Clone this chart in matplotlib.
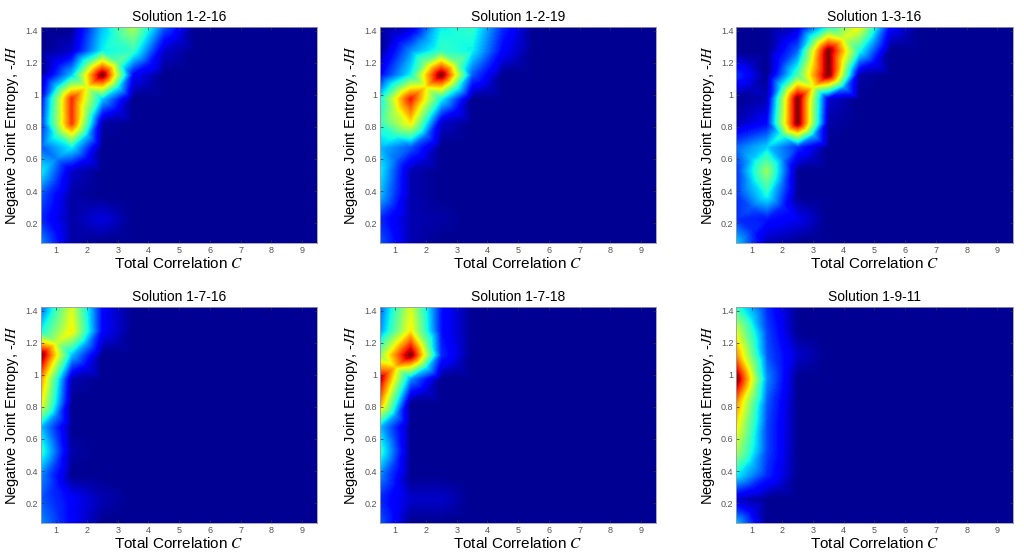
import numpy as np
import matplotlib
matplotlib.use("Agg")
import matplotlib.pyplot as plt
import matplotlib.tri as mtri
from matplotlib.colors import Normalize

plt.rcParams['font.family'] = ['Liberation Sans', 'DejaVu Sans']
plt.rcParams['mathtext.fontset'] = 'stix'

# grid nodes: total correlation C (columns), negative joint entropy -JH (rows, bottom to top)
c_nodes = [0.5, 1.5, 2.5, 3.5, 4.5, 5.5, 6.5, 7.5, 8.5, 9.5]
h_nodes = [0.075, 0.225, 0.375, 0.525, 0.675, 0.825, 0.975, 1.125, 1.275, 1.425]

titles = ["Solution 1-2-16", "Solution 1-2-19", "Solution 1-3-16",
          "Solution 1-7-16", "Solution 1-7-18", "Solution 1-9-11"]

# relative densities, rows = h_nodes, cols = c_nodes
d_1_2_16 = [
    [0.25, 0.02, 0.00, 0.00, 0.00, 0, 0, 0, 0, 0],
    [0.15, 0.02, 0.07, 0.00, 0.00, 0, 0, 0, 0, 0],
    [0.20, 0.02, 0.00, 0.00, 0.00, 0, 0, 0, 0, 0],
    [0.35, 0.05, 0.00, 0.00, 0.00, 0, 0, 0, 0, 0],
    [0.20, 0.35, 0.00, 0.00, 0.00, 0, 0, 0, 0, 0],
    [0.15, 0.85, 0.02, 0.00, 0.00, 0, 0, 0, 0, 0],
    [0.10, 0.86, 0.30, 0.00, 0.00, 0, 0, 0, 0, 0],
    [0.00, 0.30, 1.00, 0.10, 0.00, 0, 0, 0, 0, 0],
    [0.00, 0.05, 0.35, 0.40, 0.05, 0, 0, 0, 0, 0],
    [0.00, 0.00, 0.30, 0.55, 0.20, 0, 0, 0, 0, 0],
]
d_1_2_19 = [
    [0.20, 0.03, 0.00, 0.00, 0.00, 0, 0, 0, 0, 0],
    [0.15, 0.03, 0.02, 0.00, 0.00, 0, 0, 0, 0, 0],
    [0.30, 0.03, 0.00, 0.00, 0.00, 0, 0, 0, 0, 0],
    [0.35, 0.03, 0.00, 0.00, 0.00, 0, 0, 0, 0, 0],
    [0.30, 0.20, 0.00, 0.00, 0.00, 0, 0, 0, 0, 0],
    [0.40, 0.65, 0.05, 0.00, 0.00, 0, 0, 0, 0, 0],
    [0.35, 0.88, 0.35, 0.00, 0.00, 0, 0, 0, 0, 0],
    [0.10, 0.35, 1.00, 0.20, 0.00, 0, 0, 0, 0, 0],
    [0.00, 0.25, 0.40, 0.35, 0.10, 0, 0, 0, 0, 0],
    [0.00, 0.05, 0.35, 0.40, 0.15, 0, 0, 0, 0, 0],
]
d_1_3_16 = [
    [0.30, 0.03, 0.00, 0.00, 0.00, 0.00, 0, 0, 0, 0],
    [0.15, 0.12, 0.08, 0.00, 0.00, 0.00, 0, 0, 0, 0],
    [0.15, 0.35, 0.00, 0.00, 0.00, 0.00, 0, 0, 0, 0],
    [0.15, 0.50, 0.00, 0.00, 0.00, 0.00, 0, 0, 0, 0],
    [0.20, 0.30, 0.15, 0.00, 0.00, 0.00, 0, 0, 0, 0],
    [0.03, 0.10, 0.95, 0.02, 0.00, 0.00, 0, 0, 0, 0],
    [0.00, 0.03, 0.95, 0.05, 0.00, 0.00, 0, 0, 0, 0],
    [0.15, 0.00, 0.40, 0.95, 0.02, 0.00, 0, 0, 0, 0],
    [0.00, 0.00, 0.20, 0.95, 0.35, 0.00, 0, 0, 0, 0],
    [0.00, 0.00, 0.05, 0.35, 0.60, 0.10, 0, 0, 0, 0],
]
d_1_7_16 = [
    [0.25, 0.10, 0.00, 0, 0, 0, 0, 0, 0, 0],
    [0.20, 0.10, 0.03, 0, 0, 0, 0, 0, 0, 0],
    [0.25, 0.00, 0.00, 0, 0, 0, 0, 0, 0, 0],
    [0.40, 0.02, 0.00, 0, 0, 0, 0, 0, 0, 0],
    [0.30, 0.00, 0.00, 0, 0, 0, 0, 0, 0, 0],
    [0.65, 0.00, 0.00, 0, 0, 0, 0, 0, 0, 0],
    [0.75, 0.03, 0.00, 0, 0, 0, 0, 0, 0, 0],
    [1.00, 0.30, 0.00, 0, 0, 0, 0, 0, 0, 0],
    [0.35, 0.65, 0.10, 0, 0, 0, 0, 0, 0, 0],
    [0.20, 0.60, 0.10, 0, 0, 0, 0, 0, 0, 0],
]
d_1_7_18 = [
    [0.20, 0.00, 0.00, 0, 0, 0, 0, 0, 0, 0],
    [0.15, 0.05, 0.05, 0, 0, 0, 0, 0, 0, 0],
    [0.25, 0.00, 0.00, 0, 0, 0, 0, 0, 0, 0],
    [0.40, 0.00, 0.00, 0, 0, 0, 0, 0, 0, 0],
    [0.30, 0.00, 0.00, 0, 0, 0, 0, 0, 0, 0],
    [0.75, 0.00, 0.00, 0, 0, 0, 0, 0, 0, 0],
    [0.95, 0.25, 0.00, 0, 0, 0, 0, 0, 0, 0],
    [0.50, 1.00, 0.15, 0, 0, 0, 0, 0, 0, 0],
    [0.25, 0.65, 0.12, 0, 0, 0, 0, 0, 0, 0],
    [0.20, 0.60, 0.12, 0, 0, 0, 0, 0, 0, 0],
]
d_1_9_11 = [
    [0.30, 0.00, 0.00, 0, 0, 0, 0, 0, 0, 0],
    [0.05, 0.00, 0.00, 0, 0, 0, 0, 0, 0, 0],
    [0.35, 0.15, 0.00, 0, 0, 0, 0, 0, 0, 0],
    [0.55, 0.18, 0.00, 0, 0, 0, 0, 0, 0, 0],
    [0.65, 0.18, 0.00, 0, 0, 0, 0, 0, 0, 0],
    [0.75, 0.20, 0.00, 0, 0, 0, 0, 0, 0, 0],
    [1.00, 0.25, 0.00, 0, 0, 0, 0, 0, 0, 0],
    [0.75, 0.20, 0.05, 0, 0, 0, 0, 0, 0, 0],
    [0.60, 0.18, 0.00, 0, 0, 0, 0, 0, 0, 0],
    [0.40, 0.15, 0.00, 0, 0, 0, 0, 0, 0, 0],
]
panels = [d_1_2_16, d_1_2_19, d_1_3_16, d_1_7_16, d_1_7_18, d_1_9_11]

xticks = [1, 2, 3, 4, 5, 6, 7, 8, 9]
yticks = [0.2, 0.4, 0.6, 0.8, 1.0, 1.2, 1.4]
yticklabels = ["0.2", "0.4", "0.6", "0.8", "1", "1.2", "1.4"]

# interp shading: each grid cell gets a centre point (mean of its 4 corners) and is
# cut into 4 triangles; values vary linearly inside each triangle
nx, ny = len(c_nodes), len(h_nodes)
X, Y = np.meshgrid(c_nodes, h_nodes)
cx = (X[:-1, :-1] + X[1:, 1:]) / 2
cy = (Y[:-1, :-1] + Y[1:, 1:]) / 2
px = np.concatenate([X.ravel(), cx.ravel()])
py = np.concatenate([Y.ravel(), cy.ravel()])
tris = []
for j in range(ny - 1):
    for i in range(nx - 1):
        ll = j * nx + i
        lr = ll + 1
        ul = ll + nx
        ur = ul + 1
        c = nx * ny + j * (nx - 1) + i
        tris += [[ll, lr, c], [lr, ur, c], [ur, ul, c], [ul, ll, c]]
tri = mtri.Triangulation(px, py, tris)

fig = plt.figure(figsize=(10.24, 5.6), dpi=100)
lefts = [0.040, 0.371, 0.719]
bottoms = [0.566, 0.066]
w, h = 0.270, 0.386

for k in range(6):
    ax = fig.add_axes([lefts[k % 3], bottoms[k // 3], w, h])
    Z = np.array(panels[k], dtype=float)
    Zc = (Z[:-1, :-1] + Z[:-1, 1:] + Z[1:, :-1] + Z[1:, 1:]) / 4
    vals = np.concatenate([Z.ravel(), Zc.ravel()])
    zmax = Z.max()
    levels = np.linspace(0, zmax, 129)
    # zero sits on the first (0, 0, 0.56) step of a 64-colour jet
    ax.tricontourf(tri, vals, levels=levels, cmap='jet',
                   norm=Normalize(-0.014 * zmax, zmax), antialiased=False)
    ax.set_xlim(0.5, 9.5)
    ax.set_ylim(0.075, 1.425)
    ax.set_xticks(xticks)
    ax.set_xticklabels([str(t) for t in xticks])
    ax.set_yticks(yticks)
    ax.set_yticklabels(yticklabels)
    ax.tick_params(direction='in', length=2.5, width=0.5, labelsize=6.5,
                   labelcolor='#555555', color='#333333', top=True, right=True, pad=2)
    for s in ax.spines.values():
        s.set_color('#9a9aaa')
        s.set_linewidth(0.6)
    ax.set_title(titles[k], fontsize=10, pad=4)
    ax.set_xlabel(r"Total Correlation $C$", fontsize=11, labelpad=1)
    ax.set_ylabel(r"Negative Joint Entropy, -$JH$", fontsize=10.5, labelpad=3)

fig.savefig("out.png", dpi=100)
